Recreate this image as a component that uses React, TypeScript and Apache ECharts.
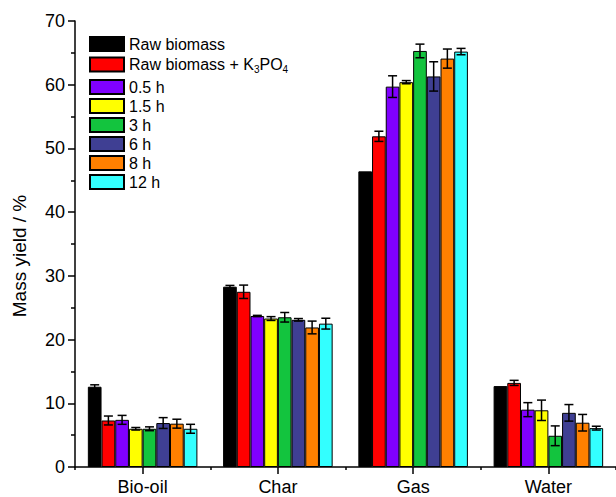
import React, { useEffect, useRef } from "react";
import * as echarts from "echarts";

const categories = ["Bio-oil", "Char", "Gas", "Water"];
const seriesNames = ["Raw biomass", "Raw biomass + K3PO4", "0.5 h", "1.5 h", "3 h", "6 h", "8 h", "12 h"];
const colors = ["#000000", "#FF0000", "#8000FF", "#FFFF00", "#13C43E", "#3F3F93", "#FF8000", "#33FFFF"];

const rawBiomass = [12.6, 28.3, 46.4, 12.7];
const rawBiomassErr = [0.3, 0.2, 0, 0];
const rawK3PO4 = [7.3, 27.5, 51.9, 13.2];
const rawK3PO4Err = [0.7, 1.05, 0.8, 0.4];
const h05 = [7.4, 23.7, 59.7, 9.0];
const h05Err = [0.7, 0.1, 1.7, 1.1];
const h15 = [6.0, 23.3, 60.4, 8.9];
const h15Err = [0.2, 0.3, 0.25, 1.6];
const h3 = [6.0, 23.5, 65.3, 4.9];
const h3Err = [0.3, 0.75, 1.07, 1.55];
const h6 = [6.9, 23.1, 61.3, 8.5];
const h6Err = [0.85, 0.2, 2.3, 1.3];
const h8 = [6.8, 21.9, 64.1, 6.95];
const h8Err = [0.7, 1.0, 1.5, 1.3];
const h12 = [6.0, 22.5, 65.2, 6.1];
const h12Err = [0.7, 0.85, 0.5, 0.3];

const values = [rawBiomass, rawK3PO4, h05, h15, h3, h6, h8, h12];
const errors = [rawBiomassErr, rawK3PO4Err, h05Err, h15Err, h3Err, h6Err, h8Err, h12Err];

const yTicks = [0, 10, 20, 30, 40, 50, 60, 70];

const GAP = 0.19;
const N = 8;
const FONT = "Liberation Sans, Arial, sans-serif";

export default function App() {
  const ref = useRef<HTMLDivElement>(null);
  useEffect(() => {
    if (!ref.current) return;
    const chart = echarts.init(ref.current, undefined, { renderer: "svg" });
    const bars: any[] = values.map((v, k) => ({
      name: seriesNames[k],
      type: "bar",
      xAxisIndex: 0,
      data: v,
      barGap: "0%",
      barCategoryGap: GAP * 100 + "%",
      itemStyle: { color: colors[k], borderColor: "#000", borderWidth: 1 },
      z: 2,
    }));
    const errs: any[] = values.map((v, k) => ({
      name: "err" + k,
      type: "custom",
      xAxisIndex: 0,
      z: 5,
      data: v.map((val, i) => [i, val, errors[k][i]]),
      renderItem: (params: any, api: any) => {
        const x = api.value(0);
        const y = api.value(1);
        const e = api.value(2);
        if (!(e > 0)) return null;
        const band = api.size([1, 0])[0];
        const barW = (band * (1 - GAP)) / N;
        const c = api.coord([x, y]);
        const cx = c[0] + (k - 3.5) * barW;
        const top = api.coord([x, y + e])[1];
        const bot = api.coord([x, y - e])[1];
        const cap = 4.5;
        const st = { stroke: "#000", lineWidth: 1.5 };
        return {
          type: "group",
          children: [
            { type: "line", shape: { x1: cx, y1: top, x2: cx, y2: bot }, style: st },
            { type: "line", shape: { x1: cx - cap, y1: top, x2: cx + cap, y2: top }, style: st },
            { type: "line", shape: { x1: cx - cap, y1: bot, x2: cx + cap, y2: bot }, style: st },
          ],
        };
      },
    }));
    const legendCommon = {
      orient: "vertical",
      left: 89,
      padding: 0,
      itemWidth: 34,
      itemHeight: 14,
      itemGap: 3,
      icon: "rect",
      textStyle: {
        fontFamily: FONT,
        fontSize: 16,
        lineHeight: 14,
        color: "#000",
        rich: {
          s: { fontSize: 10, fontFamily: FONT, lineHeight: 14, padding: [9, 0, 0, 0], color: "#000" },
        },
      },
      formatter: (n: string) => (n === "Raw biomass + K3PO4" ? "Raw biomass + K{s|3}PO{s|4}" : n),
    };
    chart.setOption({
      animation: false,
      textStyle: { fontFamily: FONT },
      grid: { left: 75, right: -5, top: 21, bottom: 30, containLabel: false },
      legend: [
        { ...legendCommon, top: 36, data: seriesNames.slice(0, 2) },
        { ...legendCommon, top: 79, data: seriesNames.slice(2) },
      ],
      xAxis: [
        {
          type: "category",
          data: categories,
          axisLine: { lineStyle: { color: "#000", width: 1.5 } },
          axisTick: { show: true, alignWithLabel: true, length: 7, lineStyle: { color: "#000", width: 1.5 } },
          axisLabel: { color: "#000", fontSize: 18, margin: 11 },
        },
        {
          type: "category",
          data: categories,
          position: "bottom",
          axisLine: { show: false },
          axisTick: { show: true, alignWithLabel: false, length: 3, lineStyle: { color: "#000", width: 1.5 } },
          axisLabel: { show: false },
        },
      ],
      yAxis: {
        type: "value",
        min: yTicks[0],
        max: yTicks[yTicks.length - 1],
        interval: 10,
        name: "Mass yield / %",
        nameLocation: "middle",
        nameGap: 46,
        nameTextStyle: { fontSize: 19, color: "#000", padding: [0, 24, 0, 0] },
        axisLine: { show: true, lineStyle: { color: "#000", width: 1.5 } },
        axisTick: { show: true, length: 7, lineStyle: { color: "#000", width: 1.5 } },
        minorTick: { show: true, splitNumber: 2, length: 4, lineStyle: { color: "#000", width: 1.5 } },
        splitLine: { show: false },
        axisLabel: { color: "#000", fontSize: 18, margin: 10 },
      },
      series: [...bars, ...errs],
    });
    return () => chart.dispose();
  }, []);
  return (
    <div
      ref={ref}
      style={{ position: "absolute", left: 0, top: 0, width: 616, height: 497, background: "#fff" }}
    />
  );
}
